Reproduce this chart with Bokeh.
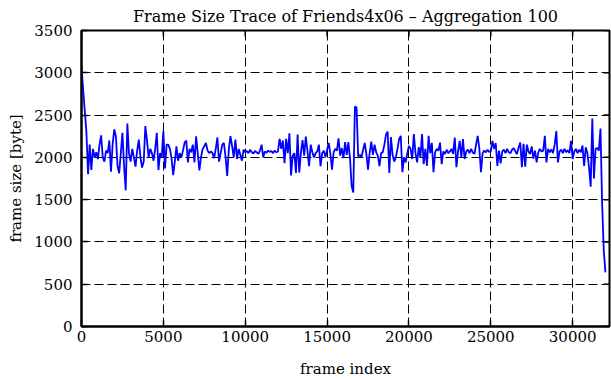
from bokeh.plotting import figure
from bokeh.models import FixedTicker, Range1d, ColumnDataSource
from bokeh.embed import file_html
from bokeh.resources import INLINE

# ---- data (aggregated frame sizes, one value per 100 frames) ----
title_text = "Frame Size Trace of Friends4x06 \u2013 Aggregation 100"
aggregation = 100
x_ticks = [0, 5000, 10000, 15000, 20000, 25000, 30000]
y_ticks = [0, 500, 1000, 1500, 2000, 2500, 3000, 3500]

size_part1 = [3080, 2800, 2550, 2300, 1800, 2150, 1850, 2100, 2000, 2060,
              1980, 2150, 2260, 2000, 1950, 2080, 2050, 2200, 1830, 2150,
              2330, 2250, 1900, 1810, 2050, 2290, 1900, 1610, 2400, 2050,
              1950, 2100, 2000, 1890, 2080, 2210, 2000, 1880, 1950, 2370,
              2200, 2000, 2100, 2050, 1960, 2100, 2290, 1850, 2050, 2000,
              2310, 1870, 2150, 2150, 2100, 1990, 1790, 1950, 2130, 1960,
              2050, 2000, 2080]
size_part2 = [2175, 2200, 1940, 2100, 2060, 2150, 1940, 2250, 2050, 1845,
              2000, 2100, 2130, 2170, 2080, 2050, 2070, 2050, 1990, 2100,
              2235, 1950, 2050, 2150, 2170, 2000, 1780, 2100, 2250, 2130,
              2000, 2210, 1980, 2100, 2030, 1960, 2090, 2060, 2075, 2050,
              2090, 2060, 2045, 2075, 2060, 2040, 2080, 2150, 2000, 2070,
              2055, 2080, 2065, 2075, 2050, 2080, 2060, 2070, 2220, 2100,
              2200, 1930, 2220, 2050, 2285, 1785]
size_part3 = [2020, 2050, 1815, 2270, 1820, 2050, 2205, 2020, 2245, 2080,
              1895, 2150, 2060, 2000, 2050, 2070, 2150, 1895, 2050, 2080,
              2000, 2090, 2170, 2040, 1855, 2060, 2100, 2080, 2225, 2020,
              2110, 1990, 2180, 2030, 2180, 1990, 1660, 1585, 2600, 2590,
              2010, 2030, 2000, 2090, 2170, 2040, 1855, 2050, 2185, 2030,
              2150, 2060, 2020, 1895, 2050, 2060, 2150, 2270, 2305, 1815,
              2240, 2030, 1950, 2000]
size_part4 = [2100, 2215, 2255, 1825, 2000, 1940, 2050, 2135, 2100, 1980,
              2275, 2050, 1940, 2120, 2000, 2275, 1920, 2100, 1900, 2255,
              2050, 2170, 1825, 2060, 2100, 2080, 2175, 1920, 2070, 2040,
              2090, 2050, 2070, 2100, 2040, 2235, 1885, 2070, 2195, 2000,
              2215, 1980, 2070, 2090, 2050, 2100, 2060, 2040, 2150, 2255,
              2100, 1825, 2050, 2080, 2060, 2090, 2065, 2070, 2195, 2100,
              2170, 1900, 2080, 1930]
size_part5 = [2070, 2090, 2050, 2100, 2060, 2050, 2090, 2110, 2070, 2040,
              2120, 2175, 1885, 2160, 1890, 2150, 2070, 2040, 2130, 1985,
              2080, 1940, 2060, 2100, 2070, 2080, 2255, 1940, 2100, 2060,
              2095, 2050, 2150, 2310, 1940, 2070, 2090, 2050, 2100, 2060,
              2085, 2050, 2195, 1980, 2070, 2100, 2050, 2090, 2060, 2140,
              1900, 2120, 2050, 1880, 1654, 2458, 1750, 2100, 2110, 2080,
              2340, 1450, 900, 640]

frame_size = size_part1 + size_part2 + size_part3 + size_part4 + size_part5
frame_index = [i * aggregation for i in range(len(frame_size))]

# ---- layout constants ----
X_END, Y_END = 32250, 3500
W, H = 611, 380
BL, BR, BT, BB = 81, 2, 30, 51
FRAME_W, FRAME_H = W - BL - BR, H - BT - BB
TICK_PX = 6

FONT = "DejaVu Serif"
p = figure(width=W, height=H,
           x_range=Range1d(0, X_END), y_range=Range1d(0, Y_END),
           output_backend="svg", toolbar_location=None,
           min_border_left=BL, min_border_right=BR,
           min_border_top=BT, min_border_bottom=BB)
p.background_fill_color = "white"
p.border_fill_color = "white"
p.outline_line_color = "black"
p.outline_line_width = 2

p.title.text = title_text
p.title.text_font = FONT
p.title.text_font_size = "16px"
p.title.text_font_style = "normal"
p.title.text_color = "black"
p.title.align = "center"
p.title.standoff = 9

for g in (p.xgrid[0], p.ygrid[0]):
    g.grid_line_color = "black"
    g.grid_line_width = 1
    g.grid_line_dash = "9 4"
p.xgrid.ticker = FixedTicker(ticks=x_ticks)
p.ygrid.ticker = FixedTicker(ticks=y_ticks)

src = ColumnDataSource(dict(x=frame_index, y=frame_size))
p.line("x", "y", source=src, line_color="#0000ff", line_width=1.8)

# mirrored inward tick marks on the top and right frame edges
top_len = TICK_PX * Y_END / FRAME_H
right_len = TICK_PX * X_END / FRAME_W
p.segment(x0=x_ticks, x1=x_ticks, y0=[Y_END] * len(x_ticks),
          y1=[Y_END - top_len] * len(x_ticks),
          line_color="black", line_width=1.5)
p.segment(x0=[X_END] * len(y_ticks), x1=[X_END - right_len] * len(y_ticks),
          y0=y_ticks, y1=y_ticks, line_color="black", line_width=1.5)

for ax in (p.xaxis[0], p.yaxis[0]):
    ax.major_label_text_font = FONT
    ax.major_label_text_font_size = "15px"
    ax.major_label_text_color = "black"
    ax.axis_label_text_font = FONT
    ax.axis_label_text_font_size = "15px"
    ax.axis_label_text_font_style = "normal"
    ax.axis_label_text_color = "black"
    ax.major_tick_in = TICK_PX
    ax.major_tick_out = 0
    ax.major_tick_line_width = 1.5
    ax.major_tick_line_color = "black"
    ax.minor_tick_line_color = None
    ax.axis_line_color = "black"
    ax.axis_line_width = 2

p.xaxis[0].ticker = FixedTicker(ticks=x_ticks)
p.yaxis[0].ticker = FixedTicker(ticks=y_ticks)
p.xaxis[0].axis_label = "frame index"
p.yaxis[0].axis_label = "frame size [byte]"
p.xaxis[0].major_label_standoff = 4
p.xaxis[0].axis_label_standoff = 15
p.yaxis[0].major_label_standoff = 9
p.yaxis[0].axis_label_standoff = 6

open("out.html", "w").write(file_html(p, INLINE))
